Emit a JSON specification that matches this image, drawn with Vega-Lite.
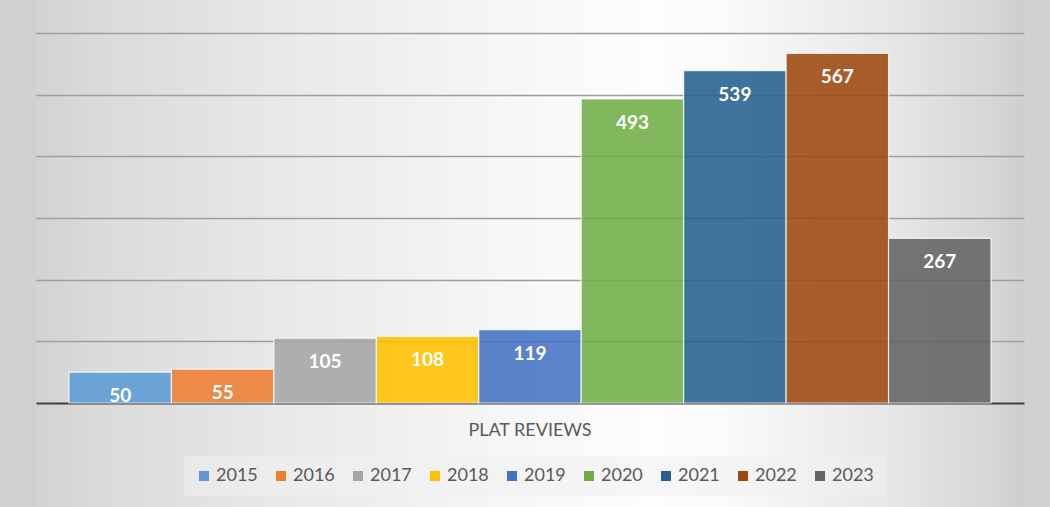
{
  "$schema": "https://vega.github.io/schema/vega-lite/v6.json",
  "width": 988,
  "height": 507,
  "autosize": {"type": "none"},
  "padding": {"left": 36, "right": 26, "top": 0, "bottom": 0},
  "background": "#d0d0d0",
  "config": {
    "font": "Lato",
    "view": {
      "stroke": null,
      "fill": {
        "gradient": "linear",
        "x1": 0, "y1": 0, "x2": 1, "y2": 0,
        "stops": [
          {"offset": 0, "color": "#d2d2d2"},
          {"offset": 0.06, "color": "#dadada"},
          {"offset": 0.27, "color": "#eaeaea"},
          {"offset": 0.47, "color": "#f6f6f6"},
          {"offset": 0.62, "color": "#fdfdfd"},
          {"offset": 0.7, "color": "#fafafa"},
          {"offset": 0.87, "color": "#e6e6e6"},
          {"offset": 0.98, "color": "#d4d4d4"},
          {"offset": 1, "color": "#cecece"}
        ]
      }
    }
  },
  "data": {
    "values": [
      {"category": "PLAT REVIEWS", "year": "2015", "reviews": 50},
      {"category": "PLAT REVIEWS", "year": "2016", "reviews": 55},
      {"category": "PLAT REVIEWS", "year": "2017", "reviews": 105},
      {"category": "PLAT REVIEWS", "year": "2018", "reviews": 108},
      {"category": "PLAT REVIEWS", "year": "2019", "reviews": 119},
      {"category": "PLAT REVIEWS", "year": "2020", "reviews": 493},
      {"category": "PLAT REVIEWS", "year": "2021", "reviews": 539},
      {"category": "PLAT REVIEWS", "year": "2022", "reviews": 567},
      {"category": "PLAT REVIEWS", "year": "2023", "reviews": 267}
    ]
  },
  "encoding": {
    "x": {
      "field": "category",
      "type": "nominal",
      "scale": {"paddingInner": 0, "paddingOuter": 0.0358},
      "axis": {
        "orient": "bottom",
        "offset": -104,
        "title": null,
        "labelAngle": 0,
        "ticks": false,
        "grid": false,
        "domainColor": "#404040",
        "domainWidth": 2,
        "labelFont": "Lato",
        "labelFontSize": 18,
        "labelColor": "#595959",
        "labelPadding": 18
      }
    },
    "xOffset": {
      "field": "year",
      "type": "nominal",
      "scale": {"paddingInner": 0, "paddingOuter": 0}
    },
    "y": {
      "field": "reviews",
      "type": "quantitative",
      "scale": {"domain": [-168.6, 653.5], "nice": false, "zero": false},
      "axis": {
        "title": null,
        "labels": false,
        "ticks": false,
        "domain": false,
        "values": [100, 200, 300, 400, 500, 600],
        "gridColor": "#9e9e9e",
        "gridWidth": 1.5
      }
    }
  },
  "layer": [
    {
      "mark": {"type": "bar", "fillOpacity": 0.88, "stroke": "#ffffff", "strokeWidth": 1.2, "strokeOpacity": 0.8},
      "encoding": {
        "y2": {"datum": 0},
        "color": {
          "field": "year",
          "type": "nominal",
          "scale": {"range": ["#5B9BD5", "#ED7D31", "#A5A5A5", "#FFC000", "#4472C4", "#70AD47", "#255E91", "#9E480E", "#636363"]},
          "legend": {
            "orient": "none",
            "legendX": 148,
            "legendY": 456,
            "direction": "horizontal",
            "columns": 9,
            "title": null,
            "symbolType": "square",
            "symbolSize": 100,
            "symbolStrokeWidth": 0,
            "labelFont": "Lato",
            "labelFontSize": 18,
            "labelColor": "#595959",
            "labelOffset": 3,
            "columnPadding": 14,
            "padding": 11,
            "fillColor": "rgba(240,240,240,0.55)"
          }
        }
      }
    },
    {
      "mark": {"type": "text", "baseline": "top", "dy": 15, "font": "Lato", "fontSize": 19, "fontWeight": "bold", "color": "#ffffff"},
      "encoding": {
        "text": {"field": "reviews", "type": "quantitative"}
      }
    }
  ]
}
